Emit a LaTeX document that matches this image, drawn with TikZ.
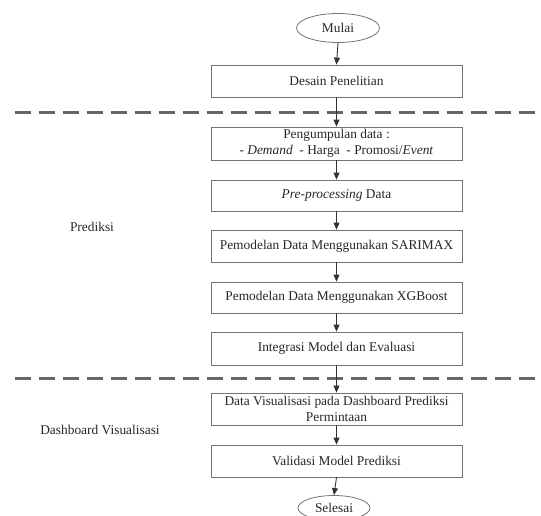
\documentclass[tikz,border=0pt]{standalone}
\usepackage{fontspec}
\setmainfont{Liberation Serif}
\newfontfamily\tnr{Liberation Serif}
\usetikzlibrary{shapes.geometric,arrows.meta}
\begin{document}
\begin{tikzpicture}[x=1pt,y=-1pt,
  stepbox/.style={draw=black!55,line width=0.8pt,minimum width=251pt,inner sep=0pt,align=center,text=black!85,font=\tnr\fontsize{13.4}{15.5}\selectfont},
  term/.style={draw=black!55,line width=0.8pt,ellipse,inner sep=0pt,text=black!85,font=\tnr\fontsize{13.4}{15.5}\selectfont},
  conn/.style={draw=black!80,line width=0.9pt,-{Triangle[length=7pt,width=6pt]}},
  sep/.style={draw=black!60,line width=3pt,dash pattern=on 16pt off 8pt},
  lbl/.style={text=black!85,font=\tnr\fontsize{13.4}{15.5}\selectfont}]
\useasboundingbox (0,0) rectangle (541,516);
\node[term,minimum width=83pt,minimum height=29pt] (mulai) at (338,28) {Mulai};
\node[stepbox,minimum height=32pt] (desain) at (336.5,81) {Desain Penelitian};
\node[stepbox,minimum height=33pt] (kumpul) at (336.5,143.5) {Pengumpulan data :\\- \textit{Demand}\ \ - Harga\ \ - Promosi/\textit{Event}};
\node[stepbox,minimum height=31pt] (pre) at (336.5,195.5) {\textit{Pre-processing} Data};
\node[stepbox,minimum height=32pt] (sarimax) at (336.5,246) {Pemodelan Data Menggunakan SARIMAX};
\node[stepbox,minimum height=31pt] (xgb) at (336.5,297.5) {Pemodelan Data Menggunakan XGBoost};
\node[stepbox,minimum height=33pt] (integ) at (336.5,348.5) {Integrasi Model dan Evaluasi};
\node[stepbox,minimum height=32pt] (vis) at (336.5,409) {Data Visualisasi pada Dashboard Prediksi\\Permintaan};
\node[stepbox,minimum height=32pt] (valid) at (336.5,461) {Validasi Model Prediksi};
\node[term,minimum width=72pt,minimum height=25pt] (selesai) at (334,508) {Selesai};
\node[lbl] (prediksi) at (92,227) {Prediksi};
\node[lbl] (dashlbl) at (100,430) {Dashboard Visualisasi};
\coordinate (s1a) at (15,113);
\coordinate (s1b) at (541,113);
\coordinate (s2a) at (15,378);
\coordinate (s2b) at (541,378);
\draw[sep] (s1a) -- (s1b);
\draw[sep] (s2a) -- (s2b);
\draw[conn] (mulai.south) -- (desain.north);
\draw[conn] (desain.south) -- (kumpul.north);
\draw[conn] (kumpul.south) -- (pre.north);
\draw[conn] (pre.south) -- (sarimax.north);
\draw[conn] (sarimax.south) -- (xgb.north);
\draw[conn] (xgb.south) -- (integ.north);
\draw[conn] (integ.south) -- (vis.north);
\draw[conn] (vis.south) -- (valid.north);
\draw[conn] (valid.south) -- (selesai.north);
\end{tikzpicture}
\end{document}
